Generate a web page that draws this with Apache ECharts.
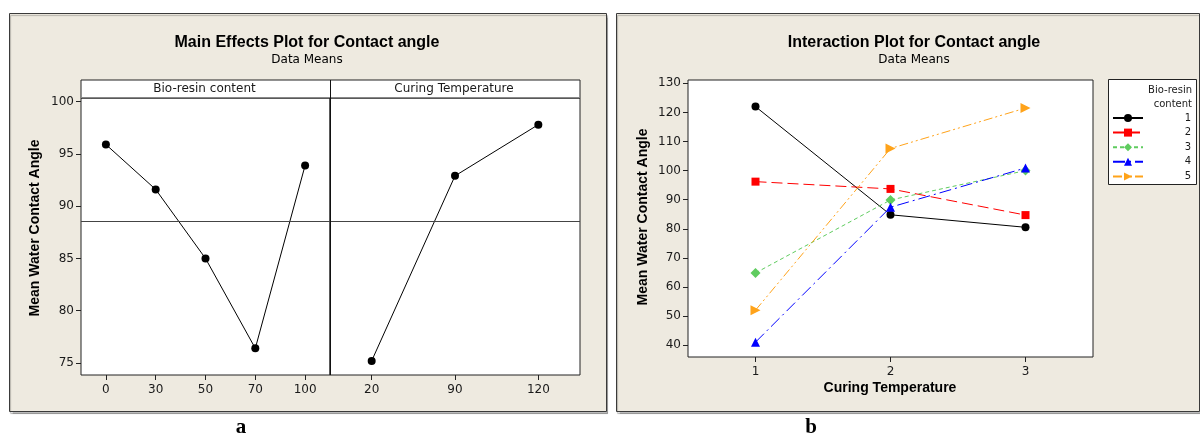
<!DOCTYPE html>
<html>
<head>
<meta charset="utf-8">
<script src="https://cdn.jsdelivr.net/npm/echarts@6/dist/echarts.min.js"></script>
<style>
  html, body { margin: 0; padding: 0; background: #fff; }
  #chart { width: 1200px; height: 435px; }
</style>
</head>
<body>
<div id="chart"></div>
<script>
// panel a: main effects
const bioResinLevels = ['0', '30', '50', '70', '100']
const bioResinMeans = [95.9, 91.6, 85.0, 76.4, 93.9]
const curingLevels = ['20', '90', '120']
const curingMeans = [75.2, 92.9, 97.8]
const grandMean = 88.6
const mainTicks = [75, 80, 85, 90, 95, 100]

// panel b: interaction
const curingTemps = ['1', '2', '3']
const content1 = [122.0, 84.8, 80.5]
const content2 = [96.2, 93.7, 84.7]
const content3 = [64.8, 89.9, 100.0]
const content4 = [41.0, 87.4, 100.9]
const content5 = [52.0, 107.6, 121.5]
const interactionTicks = [40, 50, 60, 70, 80, 90, 100, 110, 120, 130]

const PANEL_BG = '#eeeae0'
const LABEL_FONT = 'DejaVu Sans'
const TITLE_FONT = 'Liberation Sans'
const TICK_FONT = { color: '#1a1a1a', fontSize: 12, fontFamily: LABEL_FONT }

const chart = echarts.init(document.getElementById('chart'), null, { renderer: 'canvas' })

function catAxis(gridIndex, data) {
  return {
    type: 'category',
    gridIndex,
    data,
    boundaryGap: true,
    axisLine: { show: false },
    axisTick: { show: true, alignWithLabel: true, length: 5, lineStyle: { color: '#222' } },
    axisLabel: { ...TICK_FONT, margin: 9 },
    splitLine: { show: false },
  }
}

function valAxis(gridIndex, min, max, ticks, show) {
  return {
    type: 'value',
    gridIndex,
    min,
    max,
    axisLine: { show: false },
    axisTick: { show, length: 5, customValues: ticks, lineStyle: { color: '#222' } },
    axisLabel: { show, ...TICK_FONT, margin: 7, customValues: ticks },
    splitLine: { show: false },
  }
}

const meanLine = {
  silent: true,
  symbol: 'none',
  label: { show: false },
  lineStyle: { color: '#444', width: 1, type: 'solid' },
  data: [{ yAxis: grandMean }],
}

const interactionStyles = [
  { name: '1', data: content1, color: '#000000', dash: 'solid', symbol: 'circle', rotate: 0, size: 8 },
  { name: '2', data: content2, color: '#ff0000', dash: [11, 5], symbol: 'rect', rotate: 0, size: 8 },
  { name: '3', data: content3, color: '#5fcc5f', dash: [4, 3], symbol: 'diamond', rotate: 0, size: 10 },
  { name: '4', data: content4, color: '#0000ff', dash: [12, 4, 2, 4], symbol: 'triangle', rotate: 0, size: 9 },
  { name: '5', data: content5, color: '#ffa31a', dash: [9, 3, 2, 3, 2, 3], symbol: 'triangle', rotate: -90, size: 10 },
]

const option = {
  animation: false,
  backgroundColor: '#ffffff',
  grid: [
    { left: 81, top: 98, width: 249, height: 277, show: true, backgroundColor: '#fff', borderColor: '#222', borderWidth: 1 },
    { left: 330, top: 98, width: 250, height: 277, show: true, backgroundColor: '#fff', borderColor: '#222', borderWidth: 1 },
    { left: 688, top: 80, width: 405, height: 277, show: true, backgroundColor: '#fff', borderColor: '#222', borderWidth: 1 },
  ],
  xAxis: [
    catAxis(0, bioResinLevels),
    catAxis(1, curingLevels),
    catAxis(2, curingTemps),
  ],
  yAxis: [
    valAxis(0, 73.85, 100.35, mainTicks, true),
    valAxis(1, 73.85, 100.35, mainTicks, false),
    valAxis(2, 35.9, 131.15, interactionTicks, true),
  ],
  legend: {
    orient: 'vertical',
    left: 1112,
    top: 113,
    padding: 0,
    itemWidth: 30,
    itemHeight: 10,
    itemGap: 4.6,
    selectedMode: false,
    data: interactionStyles.map(s => s.name),
    formatter: '{n|{name}}',
    textStyle: {
      rich: { n: { width: 43, align: 'right', fontSize: 10, lineHeight: 10, color: '#1a1a1a', fontFamily: LABEL_FONT } },
    },
  },
  series: [
    {
      type: 'line', xAxisIndex: 0, yAxisIndex: 0, data: bioResinMeans,
      symbol: 'circle', symbolSize: 8, itemStyle: { color: '#000' }, lineStyle: { color: '#000', width: 1 },
      markLine: meanLine,
    },
    {
      type: 'line', xAxisIndex: 1, yAxisIndex: 1, data: curingMeans,
      symbol: 'circle', symbolSize: 8, itemStyle: { color: '#000' }, lineStyle: { color: '#000', width: 1 },
      markLine: meanLine,
    },
    ...interactionStyles.map(s => ({
      type: 'line',
      name: s.name,
      xAxisIndex: 2,
      yAxisIndex: 2,
      data: s.data,
      symbol: s.symbol,
      symbolSize: s.size,
      symbolRotate: s.rotate,
      itemStyle: { color: s.color },
      lineStyle: { color: s.color, width: 1, type: s.dash },
    })),
  ],
  graphic: [
    // panel backgrounds
    { type: 'rect', z: -10, shape: { x: 9.5, y: 13.5, width: 597, height: 398 }, style: { fill: PANEL_BG, stroke: '#3a3a3a', lineWidth: 1, shadowColor: 'rgba(0,0,0,0.25)', shadowOffsetX: 1, shadowOffsetY: 2, shadowBlur: 1 } },
    { type: 'rect', z: -10, shape: { x: 616.5, y: 13.5, width: 583, height: 398 }, style: { fill: PANEL_BG, stroke: '#3a3a3a', lineWidth: 1, shadowColor: 'rgba(0,0,0,0.25)', shadowOffsetX: 1, shadowOffsetY: 2, shadowBlur: 1 } },

    // strip headers
    { type: 'rect', z: 10, shape: { x: 81, y: 80, width: 499, height: 18 }, style: { fill: '#fff', stroke: '#222', lineWidth: 1 } },
    { type: 'line', z: 11, shape: { x1: 81, y1: 97.5, x2: 580, y2: 97.5 }, style: { stroke: '#888', lineWidth: 1 } },
    { type: 'line', z: 11, shape: { x1: 330.5, y1: 80, x2: 330.5, y2: 375 }, style: { stroke: '#111', lineWidth: 1 } },
    { type: 'text', z: 12, x: 204.5, y: 89, style: { text: 'Bio-resin content', align: 'center', verticalAlign: 'middle', fontSize: 12, fontFamily: LABEL_FONT, fill: '#1a1a1a' } },
    { type: 'text', z: 12, x: 454, y: 89, style: { text: 'Curing Temperature', align: 'center', verticalAlign: 'middle', fontSize: 12, fontFamily: LABEL_FONT, fill: '#1a1a1a' } },

    // titles panel a
    { type: 'text', x: 307, y: 43, style: { text: 'Main Effects Plot for Contact angle', align: 'center', verticalAlign: 'middle', fontSize: 16, fontWeight: 'bold', fontFamily: TITLE_FONT, fill: '#000' } },
    { type: 'text', x: 307, y: 60, style: { text: 'Data Means', align: 'center', verticalAlign: 'middle', fontSize: 12, fontFamily: LABEL_FONT, fill: '#000' } },
    { type: 'text', x: 35, y: 228, rotation: Math.PI / 2, style: { text: 'Mean Water Contact Angle', align: 'center', verticalAlign: 'middle', fontSize: 14, fontWeight: 'bold', fontFamily: TITLE_FONT, fill: '#000' } },

    // titles panel b
    { type: 'text', x: 914, y: 43, style: { text: 'Interaction Plot for Contact angle', align: 'center', verticalAlign: 'middle', fontSize: 16, fontWeight: 'bold', fontFamily: TITLE_FONT, fill: '#000' } },
    { type: 'text', x: 914, y: 60, style: { text: 'Data Means', align: 'center', verticalAlign: 'middle', fontSize: 12, fontFamily: LABEL_FONT, fill: '#000' } },
    { type: 'text', x: 643, y: 217, rotation: Math.PI / 2, style: { text: 'Mean Water Contact Angle', align: 'center', verticalAlign: 'middle', fontSize: 14, fontWeight: 'bold', fontFamily: TITLE_FONT, fill: '#000' } },
    { type: 'text', x: 890, y: 388, style: { text: 'Curing Temperature', align: 'center', verticalAlign: 'middle', fontSize: 14, fontWeight: 'bold', fontFamily: TITLE_FONT, fill: '#000' } },

    // legend box
    { type: 'rect', z: -5, shape: { x: 1108.5, y: 79.5, width: 88, height: 105 }, style: { fill: '#fff', stroke: '#222', lineWidth: 1 } },
    { type: 'text', x: 1192, y: 90, style: { text: 'Bio-resin', align: 'right', verticalAlign: 'middle', fontSize: 10, fontFamily: LABEL_FONT, fill: '#1a1a1a' } },
    { type: 'text', x: 1192, y: 104, style: { text: 'content', align: 'right', verticalAlign: 'middle', fontSize: 10, fontFamily: LABEL_FONT, fill: '#1a1a1a' } },

    // figure labels
    { type: 'text', x: 241, y: 428, style: { text: 'a', align: 'center', verticalAlign: 'middle', fontSize: 21, fontWeight: 'bold', fontFamily: 'Liberation Serif', fill: '#000' } },
    { type: 'text', x: 811, y: 428, style: { text: 'b', align: 'center', verticalAlign: 'middle', fontSize: 21, fontWeight: 'bold', fontFamily: 'Liberation Serif', fill: '#000' } },
  ],
}

chart.setOption(option)
</script>
</body>
</html>
